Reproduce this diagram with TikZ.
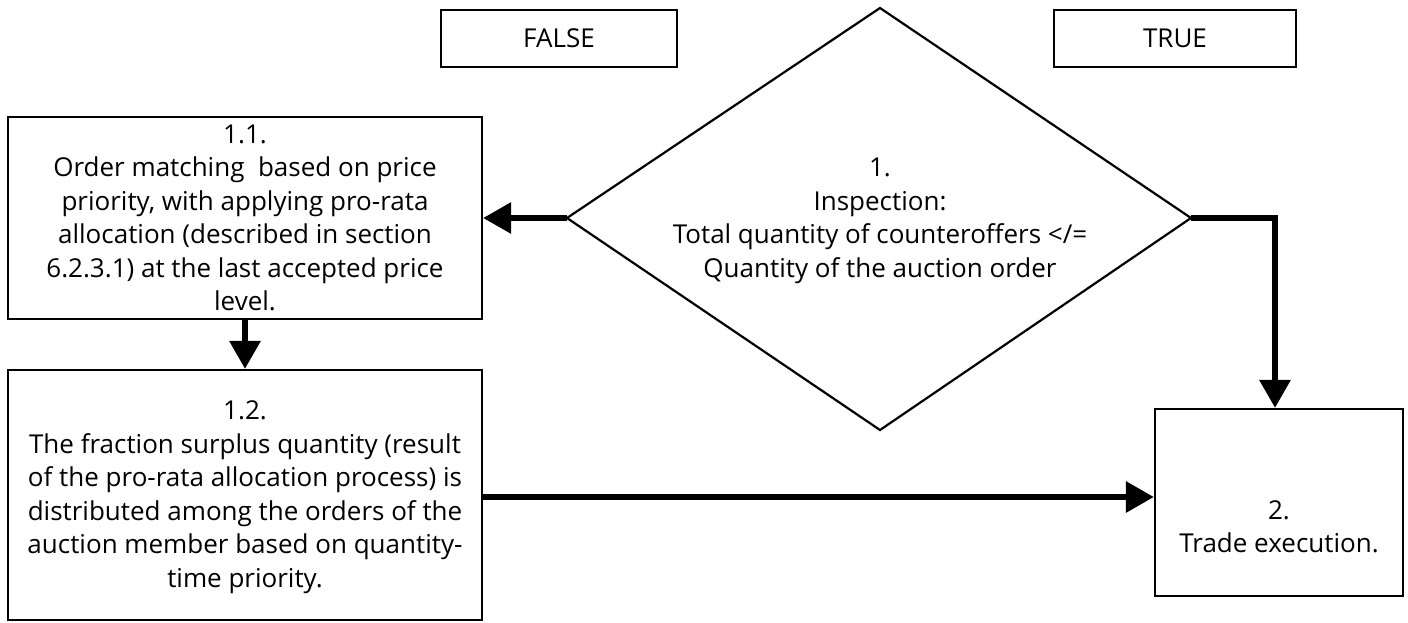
\documentclass[tikz,border=0pt]{standalone}
\usepackage{fontspec}
\setmainfont{Open Sans}
\usetikzlibrary{arrows.meta,shapes.geometric}
\begin{document}
\begin{tikzpicture}[x=1pt,y=-1pt,
  box/.style={draw, line width=2.2pt, inner sep=0pt, align=center},
  conn/.style={line width=6pt, -{Triangle[length=28pt,width=30pt]}},
  every node/.style={font=\fontsize{26}{33.5}\selectfont}]
\useasboundingbox (0,0) rectangle (1408,623);
\node[box, minimum width=236pt, minimum height=57pt] (f) at (559,38.5) {FALSE};
\node[box, minimum width=242pt, minimum height=57pt] (t) at (1175,38.5) {TRUE};
\coordinate (dt) at (880,8);
\coordinate (db) at (880,430);
\coordinate (dl) at (567,218);
\coordinate (dr) at (1191,218);
\draw[line width=2.2pt, line join=miter] (dt) -- (dr) -- (db) -- (dl) -- cycle;
\node[align=center] (d) at (880,221) {1.\\Inspection:\\Total quantity of counteroffers </=\\Quantity of the auction order};
\node[box, minimum width=474pt, minimum height=202pt] (a) at (245,218) {};
\node[align=center] (at) at (245,218) {1.1.\\Order matching\ \ based on price\\priority, with applying pro-rata\\allocation (described in section\\6.2.3.1) at the last accepted price\\level.};
\node[box, minimum width=474pt, minimum height=250pt] (b) at (245,495) {};
\node[align=center] (bt) at (245,497) {1.2.\\The fraction surplus quantity (result\\of the pro-rata allocation process) is\\distributed among the orders of the\\auction member based on quantity-\\time priority.};
\node[box, minimum width=248pt, minimum height=187pt] (c) at (1279,502.5) {};
\node[align=center] (ct) at (1279,527) {2.\\Trade execution.};
\draw[conn] (dl) -- (a.east);
\draw[conn] (dr) -- (1275,218) -- (c.north -| 1275,0);
\draw[conn] (a.south) -- (b.north);
\draw[conn] (b.east |- 0,497) -- (c.west |- 0,497);
\end{tikzpicture}
\end{document}
